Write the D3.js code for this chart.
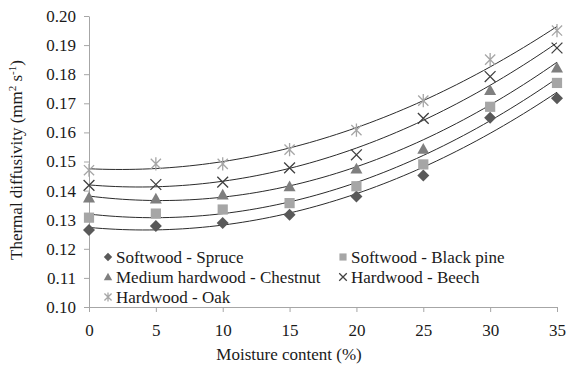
<!DOCTYPE html>
<meta charset="utf-8">
<style>
body { margin: 0; background: #fff; }
.axis path, .axis line { stroke: #a6a6a6; }
.trend { fill: none; stroke: #2b2b2b; stroke-width: 1px; }
</style>
<body>
<script src="https://d3js.org/d3.v7.min.js"></script>
<script>

// data
var moisture = [0, 5, 10, 15, 20, 25, 30, 35];
var spruce    = [0.1265, 0.1278, 0.1289, 0.1317, 0.1380, 0.1452, 0.1650, 0.1717];
var blackPine = [0.1307, 0.1321, 0.1335, 0.1357, 0.1415, 0.1490, 0.1688, 0.1770];
var chestnut  = [0.1376, 0.1372, 0.1386, 0.1414, 0.1475, 0.1543, 0.1745, 0.1822];
var beech     = [0.1418, 0.1421, 0.1429, 0.1478, 0.1523, 0.1648, 0.1792, 0.1890];
var oak       = [0.1470, 0.1492, 0.1492, 0.1541, 0.1608, 0.1709, 0.1850, 0.1950];
var yTicks = [0.10, 0.11, 0.12, 0.13, 0.14, 0.15, 0.16, 0.17, 0.18, 0.19, 0.20];

var series = [
  {name: "Softwood - Spruce", values: spruce, shape: "diamond", color: "#595959"},
  {name: "Softwood - Black pine", values: blackPine, shape: "square", color: "#a6a6a6"},
  {name: "Medium hardwood - Chestnut", values: chestnut, shape: "triangle", color: "#7f7f7f"},
  {name: "Hardwood - Beech", values: beech, shape: "cross", color: "#404040"},
  {name: "Hardwood - Oak", values: oak, shape: "star", color: "#a6a6a6"}
];

var width = 569, height = 370;
var font = "'Liberation Serif'";

var svg = d3.select("body").append("svg")
    .attr("width", width)
    .attr("height", height);

var x = d3.scaleLinear().domain([0, 35]).range([89, 557]);
var y = d3.scaleLinear().domain([0.10, 0.20]).range([307, 16]);

// axes
var yAxis = svg.append("g")
    .attr("class", "axis")
    .attr("transform", "translate(" + x(0) + ",0)")
    .call(d3.axisLeft(y).tickValues(yTicks).tickFormat(d3.format(".2f"))
      .tickSize(5).tickSizeOuter(0).tickPadding(8));
yAxis.selectAll("text").style("font-family", font).style("font-size", "17px").attr("fill", "#1a1a1a");

var xAxis = svg.append("g")
    .attr("class", "axis")
    .attr("transform", "translate(0," + y(0.10) + ")")
    .call(d3.axisBottom(x).tickValues(moisture).tickSize(5).tickSizeOuter(0).tickPadding(12));
xAxis.selectAll("text").style("font-family", font).style("font-size", "17px").attr("fill", "#1a1a1a");

// polynomial (order 2) trendlines, least squares fit of each series
function quadFit(xs, ys) {
  var n = xs.length, s = [0, 0, 0, 0, 0], t = [0, 0, 0];
  for (var i = 0; i < n; i++) {
    for (var k = 0; k < 5; k++) s[k] += Math.pow(xs[i], k);
    for (var k = 0; k < 3; k++) t[k] += ys[i] * Math.pow(xs[i], k);
  }
  var m = [[s[0], s[1], s[2], t[0]], [s[1], s[2], s[3], t[1]], [s[2], s[3], s[4], t[2]]];
  for (var c = 0; c < 3; c++) {
    for (var r = c + 1; r < 3; r++) {
      var f = m[r][c] / m[c][c];
      for (var k = c; k < 4; k++) m[r][k] -= f * m[c][k];
    }
  }
  var b = [0, 0, 0];
  for (var r = 2; r >= 0; r--) {
    var v = m[r][3];
    for (var k = r + 1; k < 3; k++) v -= m[r][k] * b[k];
    b[r] = v / m[r][r];
  }
  return function(v) { return b[0] + b[1] * v + b[2] * v * v; };
}

var line = d3.line()
    .x(function(d) { return x(d[0]); })
    .y(function(d) { return y(d[1]); });

var xs = d3.range(0, 35.01, 0.5);
series.forEach(function(s) {
  var fit = quadFit(moisture, s.values);
  svg.append("path")
      .attr("class", "trend")
      .attr("d", line(xs.map(function(v) { return [v, fit(v)]; })));
});

// marker drawing
function marker(g, shape, color, r) {
  if (shape == "diamond") {
    g.append("path").attr("d", "M0," + (-r) + "L" + r + ",0L0," + r + "L" + (-r) + ",0Z").attr("fill", color);
  } else if (shape == "square") {
    g.append("rect").attr("x", -r * 0.85).attr("y", -r * 0.85)
      .attr("width", r * 1.7).attr("height", r * 1.7).attr("fill", color);
  } else if (shape == "triangle") {
    g.append("path").attr("d", "M0," + (-r) + "L" + r + "," + (r * 0.8) + "L" + (-r) + "," + (r * 0.8) + "Z")
      .attr("fill", color);
  } else if (shape == "cross") {
    var a = r * 0.9;
    g.append("path").attr("d", "M" + (-a) + "," + (-a) + "L" + a + "," + a + "M" + a + "," + (-a) + "L" + (-a) + "," + a)
      .attr("stroke", color).attr("stroke-width", 1.3).attr("fill", "none");
  } else {
    var a = r * 0.85;
    g.append("path").attr("d", "M" + (-a) + "," + (-a) + "L" + a + "," + a + "M" + a + "," + (-a) + "L" + (-a) + "," + a +
        "M0," + (-r * 1.1) + "L0," + (r * 1.1))
      .attr("stroke", color).attr("stroke-width", 1.3).attr("fill", "none");
  }
}

series.forEach(function(s) {
  s.values.forEach(function(v, i) {
    var g = svg.append("g").attr("transform", "translate(" + x(moisture[i]) + "," + y(v) + ")");
    marker(g, s.shape, s.color, 6);
  });
});

// legend
var legendPos = [[108, 257], [343, 257], [108, 277], [343, 277], [108, 297]];
series.forEach(function(s, i) {
  var g = svg.append("g").attr("transform", "translate(" + legendPos[i][0] + "," + legendPos[i][1] + ")");
  marker(g, s.shape, s.color, 4.2);
  g.append("text")
      .attr("x", 8)
      .attr("y", 6)
      .attr("fill", "#1a1a1a")
      .style("font-family", font)
      .style("font-size", "17px")
      .text(s.name);
});

// axis titles
svg.append("text")
    .attr("x", 289)
    .attr("y", 360)
    .attr("text-anchor", "middle")
    .attr("fill", "#1a1a1a")
    .style("font-family", font)
    .style("font-size", "17px")
    .text("Moisture content (%)");

var yt = svg.append("text")
    .attr("transform", "translate(22," + 160 + ") rotate(-90)")
    .attr("text-anchor", "middle")
    .attr("fill", "#1a1a1a")
    .style("font-family", font)
    .style("font-size", "17px");
yt.append("tspan").text("Thermal  diffusivity (mm");
yt.append("tspan").attr("dy", -6).style("font-size", "11px").text("2");
yt.append("tspan").attr("dy", 6).text(" s");
yt.append("tspan").attr("dy", -6).style("font-size", "11px").text("-1");
yt.append("tspan").attr("dy", 6).text(")");

</script>
</body>
